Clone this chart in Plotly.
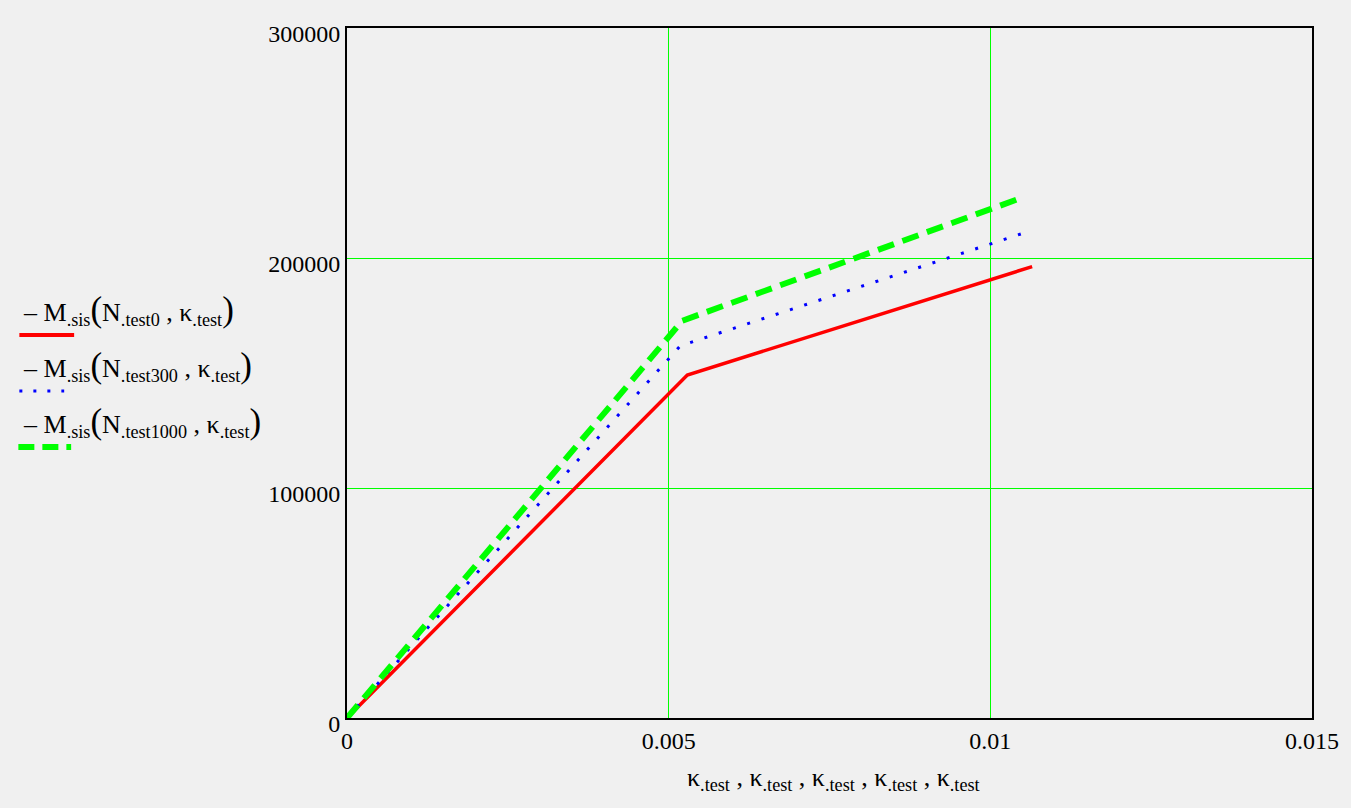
import plotly.graph_objects as go

# ---- data ----
kappa_red = [0.0, 0.00529, 0.01065]
m_red = [0, 149150, 196250]

kappa_blue = [0.0, 0.00518, 0.01059]
m_blue = [0, 161800, 211500]

kappa_green = [0.0, 0.00521, 0.0105]
m_green = [0, 172700, 226300]

x_ticks = [0, 0.005, 0.01, 0.015]
x_tick_text = ["0", "0.005", "0.01", "0.015"]
y_ticks = [0, 100000, 200000, 300000]
y_tick_text = ["0", "100000", "200000", "300000"]

series_n = ["0", "300", "1000"]

OPEN = '<span style="font-size:35px">(</span>'
CLOSE = '<span style="font-size:35px">)</span>'
legend_labels = [
    "– M<sub>.sis</sub>" + OPEN + "N<sub>.test" + n + "</sub> , κ<sub>.test</sub>" + CLOSE
    for n in series_n
]
x_title = " , ".join(["κ<sub>.test</sub>"] * 5)

# ---- layout geometry ----
W, H = 1351, 808
L, R, T, B = 347, 1316, 28, 718
FONT = "Liberation Serif, Times New Roman, serif"
BG = "#f0f0f0"


def px(x):
    return (x - L) / (R - L)


def py(y):
    return (B - y) / (B - T)


fig = go.Figure()
fig.add_trace(go.Scatter(x=kappa_red, y=m_red, mode="lines",
                         line=dict(color="#ff0000", width=3.5),
                         showlegend=False))
fig.add_trace(go.Scatter(x=kappa_blue, y=m_blue, mode="lines",
                         line=dict(color="#0000ff", width=3, dash="3px,12px"),
                         showlegend=False))
fig.add_trace(go.Scatter(x=kappa_green, y=m_green, mode="lines",
                         line=dict(color="#00ff00", width=6, dash="17px,9px"),
                         showlegend=False))

# legend (text above, line sample below, like the original)
colors = ["#ff0000", "#0000ff", "#00ff00"]
widths = [4, 3, 6]
dashes = ["solid", "3px,11px", "16px,8px"]
text_y = [310, 366, 422]
sample_y = [335, 391, 447]
sample_x = [(18, 73), (18, 63), (17, 70)]
annotations = []
shapes = []
for i, lab in enumerate(legend_labels):
    annotations.append(dict(text=lab, x=px(20), y=py(text_y[i]), xref="paper", yref="paper",
                            xanchor="left", yanchor="middle", showarrow=False,
                            font=dict(family=FONT, size=26, color="black")))
    shapes.append(dict(type="line", xref="paper", yref="paper",
                       x0=px(sample_x[i][0]), x1=px(sample_x[i][1]),
                       y0=py(sample_y[i]), y1=py(sample_y[i]),
                       line=dict(color=colors[i], width=widths[i], dash=dashes[i])))

annotations.append(dict(text=x_title, x=px(836), y=py(779), xref="paper", yref="paper",
                        xanchor="center", yanchor="middle", showarrow=False,
                        font=dict(family=FONT, size=26, color="black")))

fig.update_layout(
    width=W, height=H,
    margin=dict(l=L, r=W - R, t=T, b=H - B, pad=0),
    paper_bgcolor=BG, plot_bgcolor=BG,
    font=dict(family=FONT, size=24, color="black"),
    annotations=annotations, shapes=shapes,
    showlegend=False,
)
fig.update_xaxes(range=[0, 0.015], tickvals=x_ticks, ticktext=x_tick_text,
                 showgrid=True, gridcolor="#00ff00", gridwidth=1, zeroline=False,
                 showline=True, linecolor="black", linewidth=2, mirror=True,
                 ticks="", ticklabelstandoff=0,
                 tickfont=dict(family=FONT, size=24, color="black"))
fig.update_yaxes(range=[0, 300000], tickvals=y_ticks, ticktext=y_tick_text,
                 showgrid=True, gridcolor="#00ff00", gridwidth=1, zeroline=False,
                 showline=True, linecolor="black", linewidth=2, mirror=True,
                 ticks="", ticklabelshift=6, ticklabelstandoff=0,
                 tickfont=dict(family=FONT, size=24, color="black"))

fig.write_html("out.html", config={"displayModeBar": False},
               post_script="document.body.style.margin='0';document.body.style.overflow='hidden';")
